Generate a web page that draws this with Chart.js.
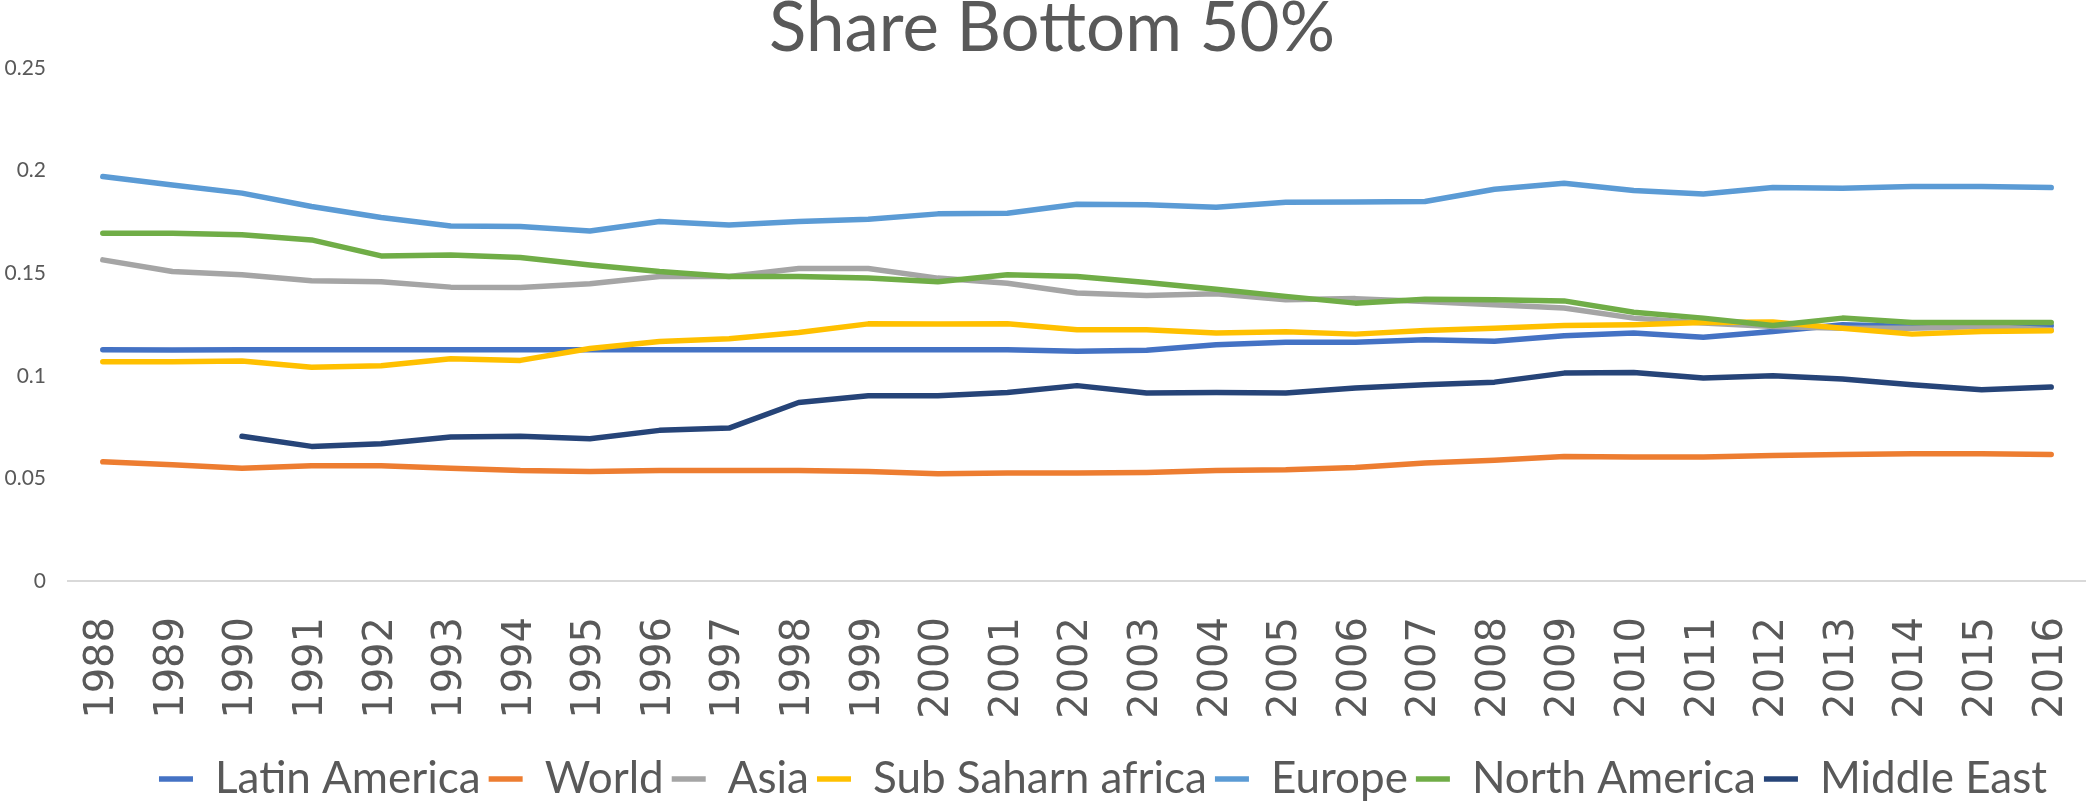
<!DOCTYPE html>
<html>
<head>
<meta charset="utf-8">
<script src="https://cdn.jsdelivr.net/npm/chart.js@4/dist/chart.umd.min.js"></script>
<style>
  html, body { margin: 0; padding: 0; background: #fff; }
  #wrap { width: 2086px; height: 801px; position: relative; }
</style>
</head>
<body>
<div id="wrap"><canvas id="chart"></canvas></div>
<script>
const years = ['1988','1989','1990','1991','1992','1993','1994','1995','1996','1997',
  '1998','1999','2000','2001','2002','2003','2004','2005','2006','2007',
  '2008','2009','2010','2011','2012','2013','2014','2015','2016'];

const latinAmerica = [0.1127,0.1126,0.1127,0.1127,0.1127,0.1127,0.1127,0.1127,0.1127,0.1127,
  0.1127,0.1127,0.1127,0.1127,0.1119,0.1124,0.1151,0.1163,0.1163,0.1176,
  0.1168,0.1195,0.1208,0.1188,0.1216,0.1249,0.124,0.1244,0.1244];
const world = [0.0581,0.0567,0.055,0.0562,0.0562,0.055,0.0538,0.0534,0.0539,0.0539,
  0.0539,0.0534,0.0523,0.0526,0.0526,0.0529,0.0539,0.0542,0.0553,0.0575,
  0.0588,0.0607,0.0604,0.0604,0.0611,0.0616,0.062,0.062,0.0617];
const asia = [0.1565,0.1508,0.1492,0.1463,0.1458,0.1432,0.143,0.1448,0.1484,0.1484,
  0.1523,0.1523,0.1476,0.1451,0.1403,0.1391,0.14,0.137,0.1376,0.1362,
  0.1346,0.133,0.1281,0.1257,0.124,0.1232,0.1232,0.124,0.1224];
const subSaharan = [0.1068,0.1068,0.1072,0.1042,0.1049,0.1083,0.1075,0.1133,0.1167,0.118,
  0.1211,0.1253,0.1252,0.1253,0.1224,0.1224,0.1208,0.1214,0.1203,0.1221,
  0.1232,0.1245,0.1249,0.126,0.1262,0.1232,0.1203,0.1216,0.1219];
const europe = [0.1971,0.193,0.189,0.1825,0.1771,0.173,0.1727,0.1706,0.1752,0.1735,
  0.1752,0.1763,0.1789,0.1792,0.1836,0.1833,0.1821,0.1846,0.1847,0.1849,
  0.1909,0.1938,0.1903,0.1886,0.1917,0.1914,0.1922,0.1922,0.1917];
const northAmerica = [0.1695,0.1695,0.1687,0.1662,0.1584,0.1588,0.1576,0.154,0.1508,0.1484,
  0.1484,0.1476,0.1458,0.1492,0.1484,0.1455,0.1422,0.1387,0.1354,0.1373,
  0.137,0.1365,0.131,0.1281,0.1245,0.1281,0.126,0.126,0.126];
const middleEast = [null,null,0.0705,0.0656,0.0669,0.0702,0.0705,0.0693,0.0734,0.0745,
  0.087,0.0903,0.0903,0.0919,0.0952,0.0916,0.0919,0.0916,0.0941,0.0956,
  0.0969,0.1013,0.1016,0.0989,0.1,0.0984,0.0956,0.0932,0.0945];

const seriesNames = ['Latin America','World','Asia','Sub Saharn africa','Europe','North America','Middle East'];
const seriesData = [latinAmerica, world, asia, subSaharan, europe, northAmerica, middleEast];
const seriesColors = ['#4472C4','#ED7D31','#A5A5A5','#FFC000','#5B9BD5','#70AD47','#264478'];

const textColor = '#595959';

// excel draws the last series on top, so reverse the drawing order
const datasets = seriesNames.map((name, i) => ({
  label: name,
  data: seriesData[i],
  borderColor: seriesColors[i],
  backgroundColor: seriesColors[i],
  borderWidth: 5.5,
  pointRadius: 0,
  tension: 0,
  borderCapStyle: 'round',
  borderJoinStyle: 'round',
  spanGaps: false,
  order: seriesNames.length - 1 - i
}));

// nudge legend and title a bit to the right, like the original
const boxShift = {
  id: 'boxShift',
  afterLayout(chart) {
    chart.legend.left += 26;
    chart.legend.right += 26;
    chart.titleBlock.left += 9;
    chart.titleBlock.right += 9;
  }
};

new Chart(document.getElementById('chart'), {
  type: 'line',
  data: { labels: years, datasets: datasets },
  plugins: [boxShift],
  options: {
    responsive: true,
    maintainAspectRatio: false,
    animation: false,
    layout: { padding: { top: 0, left: 0, right: 0, bottom: -10 } },
    plugins: {
      title: {
        display: true,
        text: 'Share Bottom 50%',
        color: textColor,
        font: { family: 'Lato', size: 69, weight: 'normal', lineHeight: 0.84 },
        padding: { top: 0, bottom: 10 }
      },
      legend: {
        position: 'bottom',
        fullSize: false,
        labels: {
          color: textColor,
          font: { family: 'Lato', size: 44 },
          usePointStyle: true,
          pointStyle: 'line',
          pointStyleWidth: 34,
          padding: 8,
          sort: (a, b) => a.datasetIndex - b.datasetIndex
        }
      },
      tooltip: { enabled: false }
    },
    scales: {
      x: {
        offset: true,
        grid: {
          display: true,
          drawOnChartArea: false,
          drawTicks: true,
          tickLength: 36,
          tickColor: 'rgba(0,0,0,0)'
        },
        border: { display: true, color: '#d9d9d9', width: 2 },
        ticks: {
          color: textColor,
          font: { family: 'DejaVu Sans', size: 40 },
          minRotation: 90,
          maxRotation: 90,
          autoSkip: false,
          padding: 0
        },
        afterFit: s => {
          s.height = 168;
          s.paddingLeft = 0;
          s.paddingRight = 0;
        }
      },
      y: {
        min: 0,
        max: 0.25,
        grid: { display: false, drawTicks: false },
        border: { display: false },
        ticks: {
          stepSize: 0.05,
          color: textColor,
          font: { family: 'Lato', size: 21 },
          padding: 22,
          callback: v => String(+v.toFixed(2))
        },
        afterFit: s => { s.width = 68; }
      }
    }
  }
});
</script>
</body>
</html>
